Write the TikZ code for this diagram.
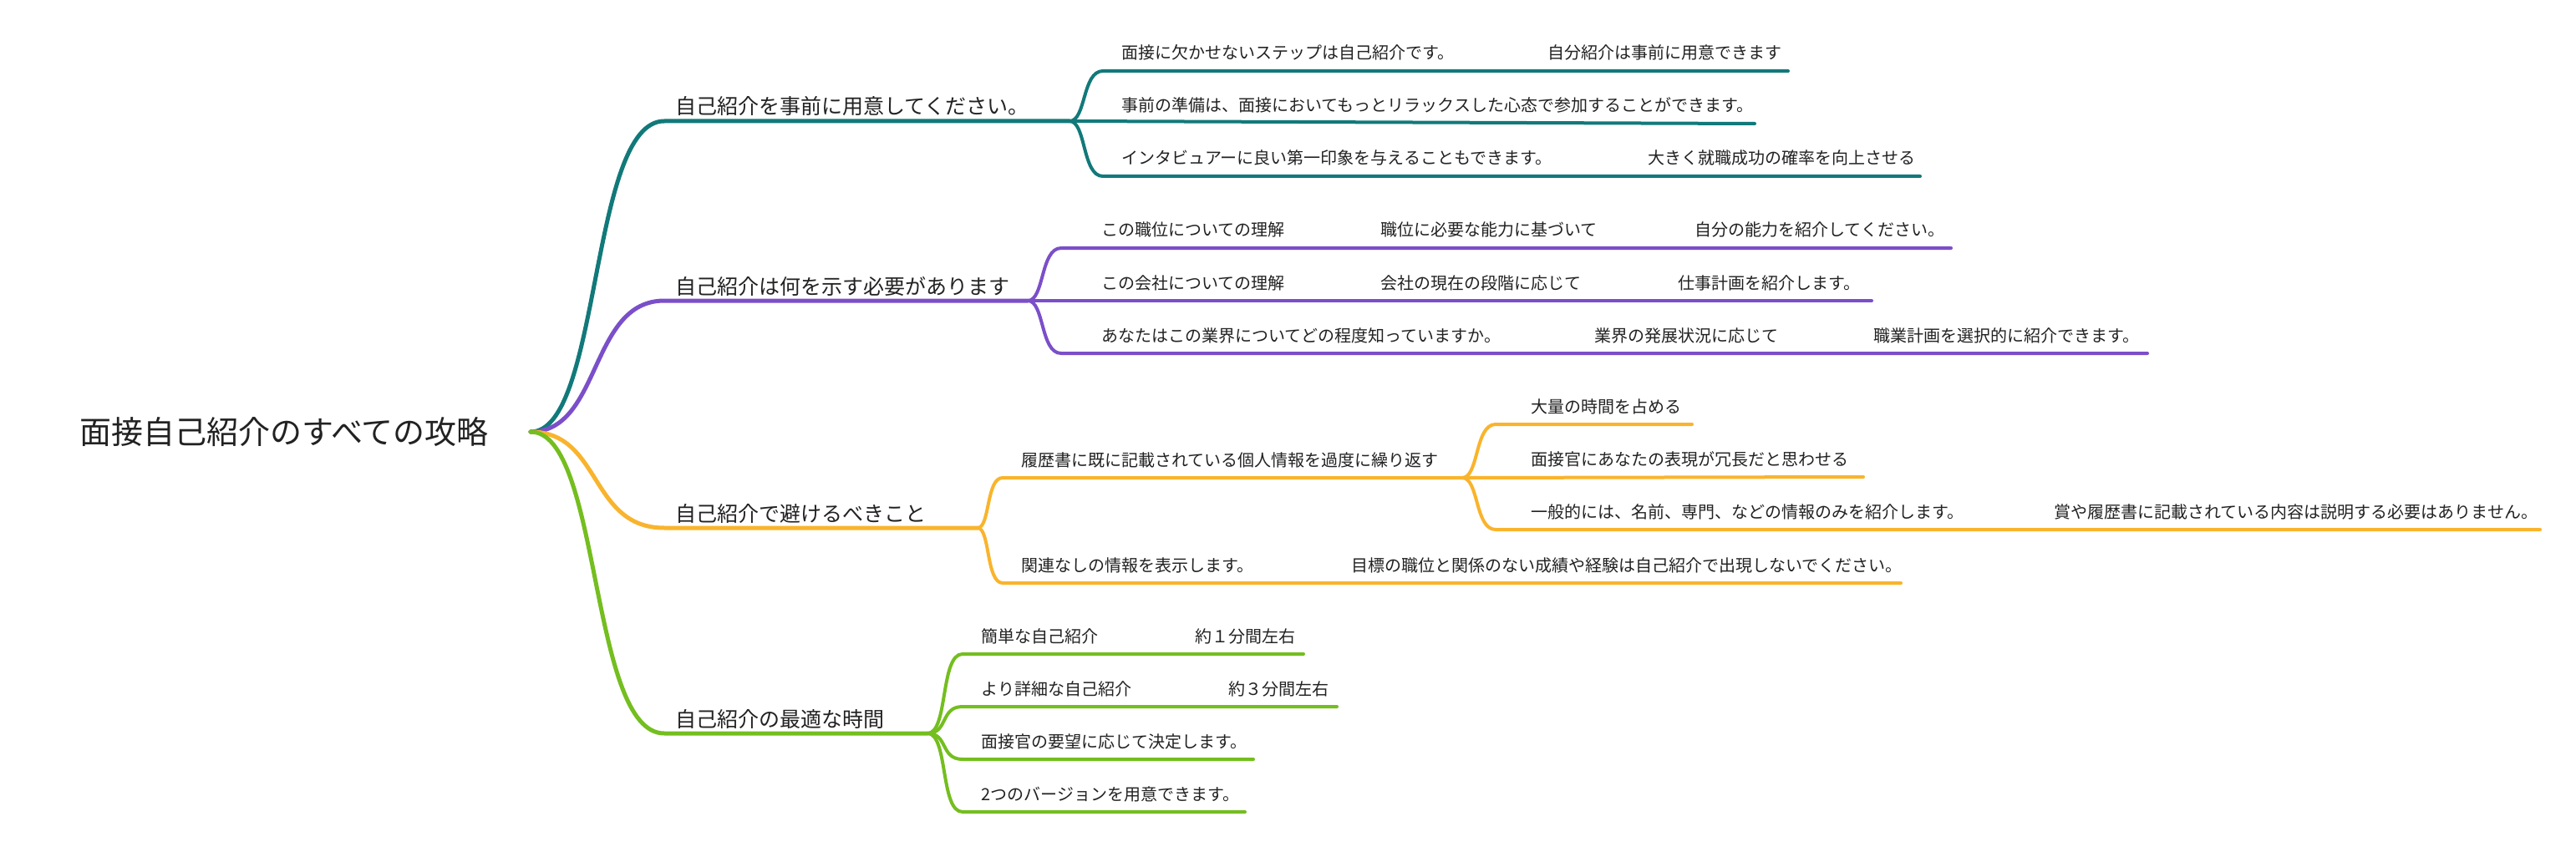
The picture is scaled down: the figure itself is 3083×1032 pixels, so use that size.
\documentclass[tikz,border=0pt]{standalone}
\usepackage{fontspec}
\setmainfont{Noto Sans CJK JP}
\definecolor{cteal}{HTML}{12797A}
\definecolor{cpurp}{HTML}{7B4FC9}
\definecolor{corng}{HTML}{F9B42D}
\definecolor{cgrn}{HTML}{74BE1F}
\definecolor{ctxt}{HTML}{222222}
\begin{document}
\begin{tikzpicture}[x=0.5pt,y=-0.5pt,
  t/.style={anchor=base west,inner sep=0pt,font=\fontsize{10}{12}\selectfont,text=ctxt},
  b/.style={anchor=base west,inner sep=0pt,font=\fontsize{12.5}{14}\selectfont,text=ctxt},
  main/.style={line width=2.5pt,line cap=round},
  sub/.style={line width=2pt,line cap=round}]
\useasboundingbox (0,0) rectangle (3083,1032);
\fill[white] (0,0) rectangle (3083,1032);
% root
\fill[black!6,rounded corners=6] (47,474) rectangle (639,564);
\node[fill=white,rounded corners=6,minimum width=590,minimum height=88,inner sep=0pt,
  font=\fontsize{19}{22}\selectfont,text=ctxt] (root) at (340,517) {面接自己紹介のすべての攻略};
\coordinate (r) at (635,517);
% ---------- branch 1 ----------
\node[b] (b1) at (808,137) {自己紹介を事前に用意してください。};
\coordinate (b1s) at (795,145); \coordinate (b1e) at (1280,145);
\draw[main,cteal] (r) .. controls (720,517) and (705,145) .. (b1s) -- (b1e);
\node[t] (c11) at (1342,71) {面接に欠かせないステップは自己紹介です。};
\node[t] (c11b) at (1852,71) {自分紹介は事前に用意できます};
\node[t] (c12) at (1342,134) {事前の準備は、面接においてもっとリラックスした心态で参加することができます。};
\node[t] (c13) at (1342,197) {インタビュアーに良い第一印象を与えることもできます。};
\node[t] (c13b) at (1972,197) {大きく就職成功の確率を向上させる};
\coordinate (c11e) at (2140,85); \coordinate (c12e) at (2100,148); \coordinate (c13e) at (2298,211);
\draw[sub,cteal] (b1e) .. controls (1300,145) and (1295,85) .. (1320,85) -- (c11e);
\draw[sub,cteal] (b1e) -- (c12e);
\draw[sub,cteal] (b1e) .. controls (1300,145) and (1295,211) .. (1320,211) -- (c13e);
% ---------- branch 2 ----------
\node[b] (b2) at (808,352) {自己紹介は何を示す必要があります};
\coordinate (b2s) at (795,360); \coordinate (b2e) at (1230,360);
\draw[main,cpurp] (r) .. controls (720,517) and (705,360) .. (b2s) -- (b2e);
\node[t] (c21) at (1318,283) {この職位についての理解};
\node[t] (c21b) at (1652,283) {職位に必要な能力に基づいて};
\node[t] (c21c) at (2028,283) {自分の能力を紹介してください。};
\node[t] (c22) at (1318,346) {この会社についての理解};
\node[t] (c22b) at (1652,346) {会社の現在の段階に応じて};
\node[t] (c22c) at (2008,346) {仕事計画を紹介します。};
\node[t] (c23) at (1318,409) {あなたはこの業界についてどの程度知っていますか。};
\node[t] (c23b) at (1908,409) {業界の発展状況に応じて};
\node[t] (c23c) at (2242,409) {職業計画を選択的に紹介できます。};
\coordinate (c21e) at (2335,297); \coordinate (c22e) at (2240,360); \coordinate (c23e) at (2570,423);
\draw[sub,cpurp] (b2e) .. controls (1250,360) and (1245,297) .. (1270,297) -- (c21e);
\draw[sub,cpurp] (b2e) -- (c22e);
\draw[sub,cpurp] (b2e) .. controls (1250,360) and (1245,423) .. (1270,423) -- (c23e);
% ---------- branch 3 ----------
\node[b] (b3) at (808,624) {自己紹介で避けるべきこと};
\coordinate (b3s) at (795,632); \coordinate (b3e) at (1170,632);
\draw[main,corng] (r) .. controls (720,517) and (705,632) .. (b3s) -- (b3e);
\node[t] (c31) at (1222,558) {履歴書に既に記載されている個人情報を過度に繰り返す};
\coordinate (c31e) at (1750,572);
\draw[sub,corng] (b3e) .. controls (1185,632) and (1180,572) .. (1200,572) -- (c31e);
\node[t] (g1) at (1832,494) {大量の時間を占める};
\node[t] (g2) at (1832,557) {面接官にあなたの表現が冗長だと思わせる};
\node[t] (g3) at (1832,620) {一般的には、名前、専門、などの情報のみを紹介します。};
\node[t] (g3b) at (2458,620) {賞や履歴書に記載されている内容は説明する必要はありません。};
\coordinate (g1e) at (2025,508); \coordinate (g2e) at (2230,571); \coordinate (g3e) at (3040,634);
\draw[sub,corng] (c31e) .. controls (1770,572) and (1765,508) .. (1790,508) -- (g1e);
\draw[sub,corng] (c31e) -- (g2e);
\draw[sub,corng] (c31e) .. controls (1770,572) and (1765,634) .. (1790,634) -- (g3e);
\node[t] (c32) at (1222,684) {関連なしの情報を表示します。};
\node[t] (c32b) at (1617,684) {目標の職位と関係のない成績や経験は自己紹介で出現しないでください。};
\coordinate (c32e) at (2275,698);
\draw[sub,corng] (b3e) .. controls (1185,632) and (1180,698) .. (1200,698) -- (c32e);
% ---------- branch 4 ----------
\node[b] (b4) at (808,870) {自己紹介の最適な時間};
\coordinate (b4s) at (795,878); \coordinate (b4e) at (1110,878);
\draw[main,cgrn] (r) .. controls (720,517) and (705,878) .. (b4s) -- (b4e);
\node[t] (c41) at (1174,769) {簡単な自己紹介};
\node[t] (c41b) at (1430,769) {約１分間左右};
\node[t] (c42) at (1174,832) {より詳細な自己紹介};
\node[t] (c42b) at (1470,832) {約３分間左右};
\node[t] (c43) at (1174,895) {面接官の要望に応じて決定します。};
\node[t] (c44) at (1174,958) {2つのバージョンを用意できます。};
\coordinate (c41e) at (1560,783); \coordinate (c42e) at (1600,846);
\coordinate (c43e) at (1500,909); \coordinate (c44e) at (1490,972);
\draw[sub,cgrn] (b4e) .. controls (1135,878) and (1125,783) .. (1152,783) -- (c41e);
\draw[sub,cgrn] (b4e) .. controls (1135,878) and (1125,846) .. (1152,846) -- (c42e);
\draw[sub,cgrn] (b4e) .. controls (1135,878) and (1125,909) .. (1152,909) -- (c43e);
\draw[sub,cgrn] (b4e) .. controls (1135,878) and (1125,972) .. (1152,972) -- (c44e);
\end{tikzpicture}
\end{document}
